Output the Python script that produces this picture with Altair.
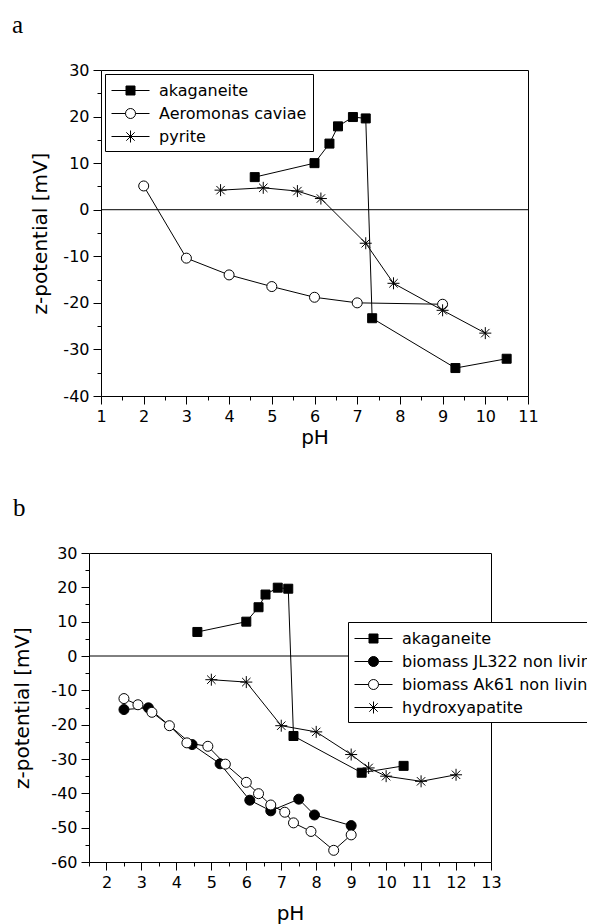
import altair as alt
import pandas as pd

# ---------------- data ----------------
# panel a
a_series = ["akaganeite", "Aeromonas caviae", "pyrite"]
akag_ph = [4.6, 6.0, 6.35, 6.55, 6.9, 7.2, 7.35, 9.3, 10.5]
akag_z = [7.0, 10.0, 14.2, 17.9, 19.9, 19.6, -23.3, -34.0, -32.0]
aero_ph = [2, 3, 4, 5, 6, 7, 9]
aero_z = [5.1, -10.4, -14.0, -16.5, -18.8, -20.0, -20.3]
pyr_ph = [3.8, 4.8, 5.6, 6.15, 7.2, 7.85, 9.0, 10.0]
pyr_z = [4.2, 4.7, 4.0, 2.4, -7.2, -15.8, -21.6, -26.5]

# panel b
b_series = ["akaganeite", "biomass JL322 non living", "biomass Ak61 non living", "hydroxyapatite"]
jl_ph = [2.5, 3.2, 4.45, 5.25, 6.1, 6.7, 7.5, 7.95, 9.0]
jl_z = [-15.6, -15.1, -25.8, -31.4, -42.0, -45.1, -41.7, -46.3, -49.4]
ak_ph = [2.5, 2.9, 3.3, 3.8, 4.3, 4.9, 5.4, 6.0, 6.35, 6.7, 7.1, 7.35, 7.85, 8.5, 9.0]
ak_z = [-12.4, -14.2, -16.4, -20.3, -25.3, -26.3, -31.5, -36.8, -40.1, -43.4, -45.5, -48.6, -51.1, -56.6, -52.1]
hap_ph = [5, 6, 7, 8, 9, 9.5, 10, 11, 12]
hap_z = [-6.9, -7.6, -20.3, -22.1, -28.7, -32.6, -35.0, -36.5, -34.6]

# axis ranges and ticks: labelled (major) and unlabelled (minor)
a_x_dom, a_y_dom = [1, 11], [-40, 30]
b_x_dom, b_y_dom = [1.5, 13], [-60, 30]
a_x_major = list(range(1, 12))
a_x_minor = [1.5 + i for i in range(10)]
a_y_major = list(range(-40, 31, 10))
a_y_minor = list(range(-35, 30, 10))
b_x_major = list(range(2, 14))
b_x_minor = [1.5 + i for i in range(12)]
b_y_major = list(range(-60, 31, 10))
b_y_minor = list(range(-55, 30, 10))


def make_df(names, phs, zs):
    rows = []
    for s, ph, z in zip(names, phs, zs):
        for i, (p, v) in enumerate(zip(ph, z)):
            rows.append({"series": s, "idx": i, "pH": p, "z": v})
    return pd.DataFrame(rows)


df_a = make_df(a_series, [akag_ph, aero_ph, pyr_ph], [akag_z, aero_z, pyr_z])
df_b = make_df(b_series, [akag_ph, jl_ph, ak_ph, hap_ph], [akag_z, jl_z, ak_z, hap_z])

# ---------------- marker / legend symbol styles ----------------
ASTER = "M-1,0H1M0,-1V1M-0.7,-0.7L0.7,0.7M-0.7,0.7L0.7,-0.7"
LEG_SQ = "M-1,0H0.45M1.35,0H2.8M0.45,-0.45H1.35V0.45H0.45Z"
LEG_CI = "M-1,0H0.4M1.4,0H2.8M0.4,0A0.5,0.5 0 1,1 1.4,0A0.5,0.5 0 1,1 0.4,0Z"
LEG_AS = "M-1,0H2.8M0.9,-0.6V0.6M0.48,-0.42L1.32,0.42M0.48,0.42L1.32,-0.42"

FONT = "DejaVu Sans"


def panel(df, series, mk_shapes, mk_fills, mk_sizes, lg_shapes, xdom, ydom,
          xmaj, xmin, ymaj, ymin, w, h, shift, letter, lx, ly, legx, legy, ytp, xtp):
    xs = alt.Scale(domain=xdom, nice=False, zero=False, range=[shift, w])
    ys = alt.Scale(domain=ydom, nice=False, zero=False)
    x = alt.X("pH:Q", scale=xs, axis=alt.Axis(
        values=xmaj, title="pH", labelExpr="'' + datum.value", labelOverlap=False, labelFlush=False,
        tickSize=8, labelPadding=4, titlePadding=xtp, grid=False, orient="bottom"))
    y = alt.Y("z:Q", scale=ys, axis=alt.Axis(
        values=ymaj, title="z-potential [mV]", labelExpr="'' + datum.value", labelOverlap=False,
        labelFlush=False, tickSize=8, labelPadding=4, titlePadding=ytp, grid=False, orient="left",
        offset=-shift))
    base = alt.Chart(df)
    lines = base.mark_line(color="black", strokeWidth=1).encode(
        x=x, y=y, detail="series:N", order="idx:Q")
    zero = alt.Chart(pd.DataFrame({"pH": [xdom[0]], "pH_end": [xdom[1]], "z": [0]})).mark_rule(
        color="black", strokeWidth=1).encode(x=x, x2="pH_end:Q", y=y)
    layers = [lines, zero]
    for s, shp, fl, sz in zip(series, mk_shapes, mk_fills, mk_sizes):
        layers.append(
            base.transform_filter(alt.datum.series == s).mark_point(
                shape=shp, fill=fl, stroke="black", size=sz, strokeWidth=1,
                opacity=1, fillOpacity=1, strokeOpacity=1
            ).encode(x=x, y=y)
        )
    leg = alt.Legend(title=None, orient="none", legendX=legx + shift, legendY=legy,
                     strokeColor="black", fillColor="white", padding=6, cornerRadius=0,
                     labelFont=FONT, labelFontSize=16, labelColor="black",
                     symbolSize=400, symbolStrokeWidth=1, symbolStrokeColor="black",
                     labelOffset=27, rowPadding=4, labelLimit=400)
    layers.append(
        base.transform_filter("false").mark_point(strokeWidth=1, opacity=1).encode(
            x=x, y=y,
            shape=alt.Shape("series:N", scale=alt.Scale(domain=series, range=lg_shapes), legend=leg),
            fill=alt.Fill("series:N", scale=alt.Scale(domain=series, range=mk_fills), legend=leg),
            stroke=alt.Stroke("series:N", scale=alt.Scale(domain=series, range=["black"] * len(series)), legend=leg),
        )
    )
    layers.append(
        alt.Chart(pd.DataFrame({"t": [letter]})).mark_text(
            font="Liberation Serif", fontSize=25, align="left", baseline="alphabetic", color="black"
        ).encode(x=alt.value(lx), y=alt.value(ly), text="t:N")
    )
    main = alt.layer(*layers)
    minor = base.transform_filter("false").mark_point().encode(
        x=alt.X("pH:Q", scale=xs, axis=alt.Axis(values=xmin, labels=False, domain=False, title=None,
                                                tickSize=4, grid=False, orient="bottom")),
        y=alt.Y("z:Q", scale=ys, axis=alt.Axis(values=ymin, labels=False, domain=False, title=None,
                                               tickSize=4, grid=False, orient="left", offset=-shift)),
    )
    frame = base.transform_filter("false").mark_point().encode(
        x=alt.X("pH:Q", scale=xs, axis=alt.Axis(values=[], labels=False, ticks=False, domain=True,
                                                title=None, grid=False, orient="top")),
        y=alt.Y("z:Q", scale=ys, axis=alt.Axis(values=[], labels=False, ticks=False, domain=True,
                                               title=None, grid=False, orient="right")),
    )
    return alt.layer(main, minor, frame).resolve_axis(x="independent", y="independent").properties(
        width=w, height=h)


pa = panel(df_a, a_series,
           ["square", "circle", ASTER], ["black", "white", "transparent"], [81, 100, 144],
           [LEG_SQ, LEG_CI, LEG_AS],
           a_x_dom, a_y_dom, a_x_major, a_x_minor, a_y_major, a_y_minor,
           439, 326, 12, "a", -77, -37, 4, 4, 12, 3)
pb = panel(df_b, b_series,
           ["square", "circle", "circle", ASTER], ["black", "black", "white", "transparent"],
           [81, 100, 100, 144],
           [LEG_SQ, LEG_CI, LEG_CI, LEG_AS],
           b_x_dom, b_y_dom, b_x_major, b_x_minor, b_y_major, b_y_minor,
           402, 309, 0, "b", -76, -37, 259, 69, 18, 13)

chart = alt.vconcat(pa, pb, spacing=47).resolve_scale(
    shape="independent", fill="independent", stroke="independent"
).properties(
    padding={"left": 3, "top": 4, "right": -22, "bottom": 5}
).configure_view(stroke="transparent").configure_axis(
    domainColor="black", tickColor="black", labelColor="black", titleColor="black",
    labelFont=FONT, titleFont=FONT, labelFontSize=16, titleFontSize=20, titleFontWeight="normal",
    domainWidth=1, tickWidth=1,
)

chart.save("out.html", embed_options={"renderer": "svg", "actions": False})
